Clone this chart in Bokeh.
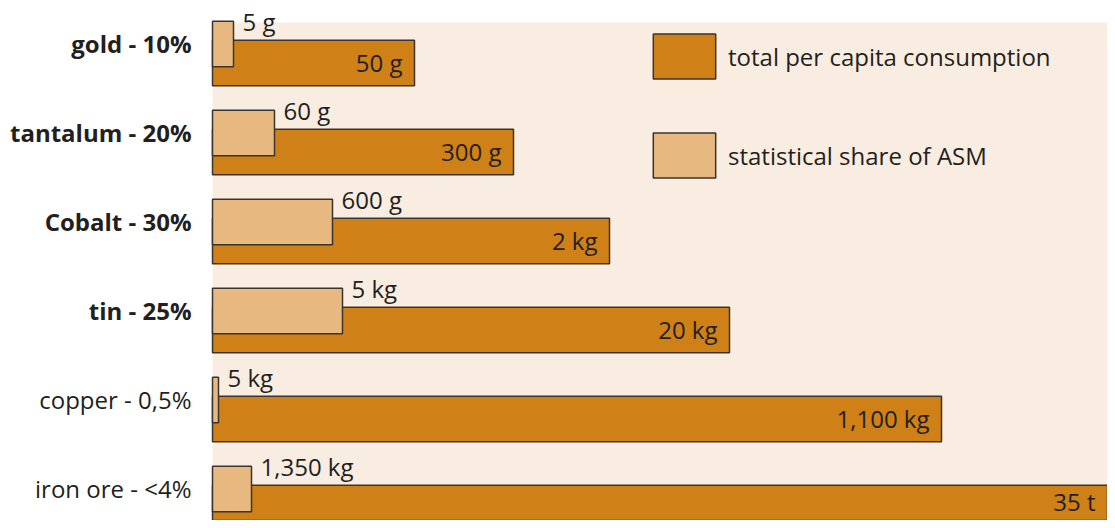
from bokeh.plotting import figure
from bokeh.models import Range1d, BoxAnnotation, Legend, LegendItem, ColumnDataSource
from bokeh.core.properties import value
from bokeh.embed import file_html
from bokeh.resources import INLINE

# ---- data (bar lengths; the original uses a hand-drawn, non-linear scale) ----
categories = ["gold - 10%", "tantalum - 20%", "Cobalt - 30%", "tin - 25%", "copper - 0,5%", "iron ore - <4%"]
total_length = [202, 301, 397, 517, 729, 915]
asm_length = [21, 62, 120, 130, 6, 39]
total_labels = ["50 g", "300 g", "2 kg", "20 kg", "1,100 kg", "35 t"]
asm_labels = ["5 g", "60 g", "600  g", "5 kg", "5 kg", "1,350 kg"]
highlighted = [True, True, True, True, False, False]

# ---- style ----
DARK = "#cf8016"
LIGHT = "#e7b880"
BG = "#f9ede1"
EDGE = "#3a3431"
INK = "#231f20"
FONT = "Open Sans"
FS = "24px"
UNIT = 89.0            # pixels per category step
BAR_H = 45.5 / UNIT
ASM_SHIFT = 19 / UNIT
Y_TOP = -62.5 / UNIT
Y_BOTTOM = Y_TOP + 520 / UNIT
X_END = 895

pos = list(range(len(categories)))
src = ColumnDataSource(dict(
    pos=pos,
    asm_pos=[q - ASM_SHIFT for q in pos],
    top_edge=[q - BAR_H / 2 for q in pos],
    total=total_length, asm=asm_length,
    # keep the labels of bars running off the frame inside it
    label_x=[min(t, X_END) for t in total_length],
    label_y=[min(q, Y_BOTTOM - 18 / UNIT) for q in pos],
    tl=total_labels, al=asm_labels,
))

p = figure(width=1107, height=520, output_backend="svg", toolbar_location=None,
           x_range=Range1d(-212, X_END), y_range=Range1d(Y_BOTTOM, Y_TOP),
           min_border=0, min_border_left=0, min_border_right=0,
           min_border_top=0, min_border_bottom=0)
p.axis.visible = False
p.grid.visible = False
p.outline_line_color = None
p.background_fill_color = "white"
p.border_fill_color = "white"

p.add_layout(BoxAnnotation(left=0, top=Y_TOP + 22 / UNIT, fill_color=BG, fill_alpha=1,
                           line_color=None, level="underlay"))

r_total = p.hbar(y="pos", left=0, right="total", height=BAR_H, source=src,
                 fill_color=DARK, line_color=EDGE, line_width=1.5)
r_asm = p.hbar(y="asm_pos", left=0, right="asm", height=BAR_H, source=src,
               fill_color=LIGHT, line_color=EDGE, line_width=1.5)

p.text(x="label_x", y="label_y", text="tl", source=src, text_align="right", text_baseline="middle",
       x_offset=-12, y_offset=-1, text_font=value(FONT), text_font_size=FS, text_color=INK)
p.text(x="asm", y="top_edge", text="al", source=src, text_align="left", text_baseline="middle",
       x_offset=9, y_offset=-19, text_font=value(FONT), text_font_size=FS, text_color=INK)

bold_idx = [i for i, h in enumerate(highlighted) if h]
norm_idx = [i for i, h in enumerate(highlighted) if not h]
for idx, style in ((bold_idx, "bold"), (norm_idx, "normal")):
    s = ColumnDataSource(dict(y=[pos[i] - ASM_SHIFT for i in idx], t=[categories[i] for i in idx]))
    p.text(x=0, y="y", text="t", source=s, text_align="right", text_baseline="middle",
           x_offset=-21, y_offset=-1, text_font=value(FONT), text_font_size=FS,
           text_font_style=style, text_color=INK)

# legend: Bokeh draws area swatches at 80% of the glyph box, inset by 10%
GW, GH, GAP = 78, 56, 43
legend = Legend(items=[LegendItem(label="total per capita consumption", renderers=[r_total]),
                       LegendItem(label="statistical share of ASM", renderers=[r_asm])],
                location=(645, 520 - 28 - (2 * GH + GAP)),
                glyph_width=GW, glyph_height=GH, spacing=GAP,
                padding=0, margin=0, label_standoff=5, border_line_color=None,
                background_fill_alpha=0, label_text_font=FONT, label_text_font_size=FS,
                label_text_color=INK, label_height=GH)
p.add_layout(legend)

open("out.html", "w").write(file_html(p, INLINE))
